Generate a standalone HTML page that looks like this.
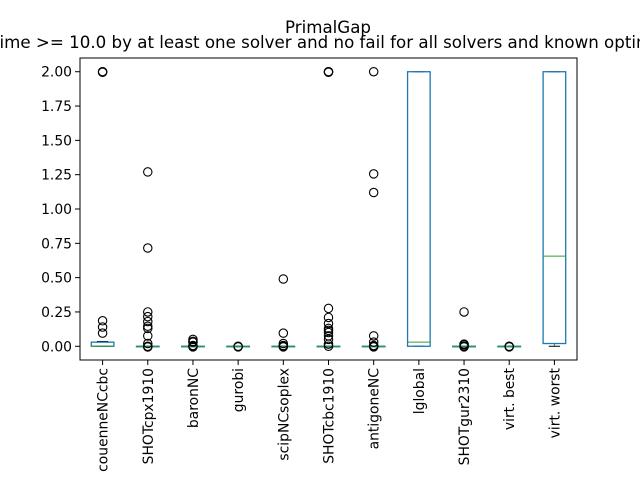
<!DOCTYPE html>
<html><head><meta charset="utf-8"><style>
html,body{margin:0;padding:0;background:#fff;}
svg{display:block;font-family:"DejaVu Sans","Liberation Sans",sans-serif;}
</style></head><body>
<svg id="chart" width="640" height="480" viewBox="0 0 640 480">
<rect width="640" height="480" fill="#fff"/>
<text x="328" y="33" text-anchor="middle" font-size="16.67">PrimalGap</text>
<text x="-7" y="48" text-anchor="start" font-size="16.67">time &gt;= 10.0 by at least one solver and no fail for all solvers and known optimal</text>
<g id="plot"></g>
<rect x="80" y="58" width="497" height="302" fill="none" stroke="#000" stroke-width="1"/>
</svg>
<script>
const categories = ["couenneNCcbc","SHOTcpx1910","baronNC","gurobi","scipNCsoplex","SHOTcbc1910","antigoneNC","lglobal","SHOTgur2310","virt. best","virt. worst"];
const q1s      = [0, 0, 0, 0, 0, 0, 0, 0, 0, 0, 0.02];
const medians  = [0, 0, 0, 0, 0, 0, 0, 0.03, 0, 0, 0.657];
const q3s      = [0.03, 0, 0, 0, 0, 0, 0, 2.0, 0, 0, 2.0];
const whiskLo  = [0, 0, 0, 0, 0, 0, 0, 0, 0, 0, 0];
const whiskHi  = [0.035, 0, 0, 0, 0, 0, 0, 2.0, 0, 0, 2.0];
const outliers = [
  [2.0, 2.0, 2.0, 0.19, 0.14, 0.10],
  [1.27, 0.72, 0.25, 0.22, 0.18, 0.15, 0.13, 0.08, 0.02, 0, 0, 0],
  [0.05, 0.04, 0.03, 0.01, 0, 0],
  [0, 0],
  [0.49, 0.10, 0.02, 0.01, 0, 0],
  [2.0, 2.0, 2.0, 0.28, 0.21, 0.17, 0.13, 0.12, 0.10, 0.08, 0.05, 0.02, 0],
  [2.0, 1.26, 1.12, 0.08, 0.03, 0.01, 0, 0],
  [],
  [0.25, 0.02, 0.01, 0, 0],
  [0, 0],
  []
];
const yTicks = [0, 0.25, 0.5, 0.75, 1.0, 1.25, 1.5, 1.75, 2.0];
const yTickLabels = ["0.00","0.25","0.50","0.75","1.00","1.25","1.50","1.75","2.00"];

const NS = "http://www.w3.org/2000/svg";
const L = 80, R = 577, T = 58, B = 360;
const yMin = -0.1, yMax = 2.1;
function yScale(v){ return B - (v - yMin) / (yMax - yMin) * (B - T); }
function xScale(i){ const w = (R - L) / categories.length; return L + w * (i + 0.5); }
const g = document.getElementById('plot');
function el(tag, attrs){ const e = document.createElementNS(NS, tag); for (const k in attrs) e.setAttribute(k, attrs[k]); g.appendChild(e); return e; }

yTicks.forEach((v, i) => {
  const y = yScale(v);
  const t = el('line', {x1: L - 5, x2: L, y1: y, y2: y, stroke: '#000'});
  
  
  const tx = el('text', {x: L - 8, y: y + 5, 'text-anchor': 'end', 'font-size': '13.9'});
  tx.textContent = yTickLabels[i];
  
  
});

const bw = (R - L) / categories.length * 0.5;
categories.forEach((c, i) => {
  const x = xScale(i);
  const t = el('line', {x1: x, x2: x, y1: B, y2: B + 5, stroke: '#000'});
  
  
  const tx = el('text', {x: 0, y: 0, 'text-anchor': 'end', 'font-size': '13.9', transform: `translate(${x + 5},${B + 8}) rotate(-90)`});
  tx.textContent = c;
  
  

  const yq1 = yScale(q1s[i]), yq3 = yScale(q3s[i]);
  const w1 = el('line', {x1: x, x2: x, y1: yScale(whiskLo[i]), y2: yq1, stroke: '#1f77b4'});
  
  
  const w2 = el('line', {x1: x, x2: x, y1: yq3, y2: yScale(whiskHi[i]), stroke: '#1f77b4'});
  
  
  const c1 = el('line', {x1: x - bw / 4, x2: x + bw / 4, y1: yScale(whiskLo[i]), y2: yScale(whiskLo[i]), stroke: '#000'});
  
  
  const c2 = el('line', {x1: x - bw / 4, x2: x + bw / 4, y1: yScale(whiskHi[i]), y2: yScale(whiskHi[i]), stroke: '#000'});
  
  
  const box = el('rect', {x: x - bw / 2, y: yq3, width: bw, height: Math.max(0.5, yq1 - yq3), fill: 'none', stroke: '#1f77b4', 'stroke-width': 1.3});
  
  
  const m = el('line', {x1: x - bw / 2, x2: x + bw / 2, y1: yScale(medians[i]), y2: yScale(medians[i]), stroke: '#2ca02c'});
  
  
  outliers[i].forEach((v, k) => {
    const o = el('circle', {cx: x, cy: yScale(v) + (k % 2 ? 0.6 : 0), r: 4.2, fill: 'none', stroke: '#000', 'stroke-width': 1.1});
    
    
  });
});
</script>
</body></html>
